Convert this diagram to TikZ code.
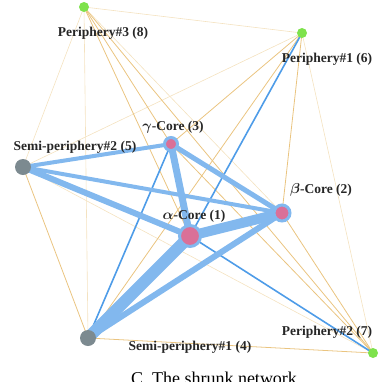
\documentclass[tikz,border=0pt]{standalone}
\usepackage{fontspec}
\setmainfont{Liberation Serif}
\usetikzlibrary{backgrounds}
\definecolor{linkblue}{RGB}{130,184,238}
\definecolor{thinblue}{RGB}{78,156,232}
\definecolor{linkorange}{RGB}{234,196,128}
\definecolor{paleorange}{RGB}{244,226,192}
\definecolor{corepink}{RGB}{218,112,152}
\definecolor{semigray}{RGB}{124,138,144}
\definecolor{perigreen}{RGB}{126,226,76}

\begin{document}
\begin{tikzpicture}[x=1pt,y=-1pt,
	core/.style={circle,draw=linkblue,line width=3pt,fill=corepink,inner sep=0pt},
	semi/.style={circle,fill=semigray,inner sep=0pt,minimum size=16pt},
	peri/.style={circle,fill=perigreen,inner sep=0pt,minimum size=10pt},
	lab/.style={font=\bfseries\boldmath\fontsize{13.5}{14}\selectfont,text=black!85,inner sep=0pt},
	fat/.style={draw=linkblue,line cap=round},
	thin/.style={draw=thinblue,line width=1.6pt},
	weak/.style={draw=linkorange,line width=0.8pt},
	faint/.style={draw=paleorange,line width=0.6pt}]
	\useasboundingbox (0,0) rectangle (383,381);
	% nodes
	\node[core,minimum size=21pt] (a) at (190,236) {};
	\node[core,minimum size=16pt] (b) at (282,213) {};
	\node[core,minimum size=13pt] (g) at (171,144) {};
	\node[semi] (s1) at (88,338) {};
	\node[semi] (s2) at (23,167) {};
	\node[peri] (p1) at (302,33) {};
	\node[peri] (p2) at (373,353) {};
	\node[peri] (p3) at (84,7) {};
	% labels
	\node[lab] (la) at (194,216) {$\alpha$-Core (1)};
	\node[lab] (lb) at (321,190) {$\beta$-Core (2)};
	\node[lab] (lg) at (173,127) {$\gamma$-Core (3)};
	\node[lab] (ls1) at (190,347) {Semi-periphery\#1 (4)};
	\node[lab] (ls2) at (75,147) {Semi-periphery\#2 (5)};
	\node[lab] (lp1) at (327,59) {Periphery\#1 (6)};
	\node[lab] (lp2) at (327,332) {Periphery\#2 (7)};
	\node[lab] (lp3) at (103,33) {Periphery\#3 (8)};
	\node[font=\fontsize{18}{20}\selectfont,anchor=base] (cap) at (214,384) {C.\ The shrunk network};
	% links
	\begin{scope}[on background layer]
		\foreach \u/\v in {p3/p1,p3/s1,p3/s2,p1/s2,p1/p2,s2/p2,p3/b}
			\draw[faint] (\u.center) -- (\v.center);
		\foreach \u/\v in {p3/g,p3/a,p3/p2,p1/g,p1/s1,p1/b,p2/b,p2/g,s1/p2,s1/s2}
			\draw[weak] (\u.center) -- (\v.center);
		\foreach \u/\v in {s1/g,p1/a,a/p2}
			\draw[thin] (\u.center) -- (\v.center);
		\foreach \u/\v/\w in {a/s1/12,a/b/10,a/g/7,a/s2/6,s1/b/6,g/b/5,s2/b/4,s2/g/4}
			\draw[fat,line width=\w pt] (\u.center) -- (\v.center);
	\end{scope}
\end{tikzpicture}
\end{document}
